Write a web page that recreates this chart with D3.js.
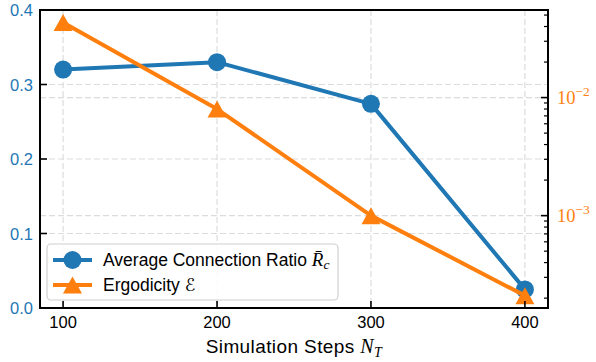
<!DOCTYPE html>
<html><head><meta charset="utf-8">
<script src="https://cdn.jsdelivr.net/npm/d3@7"></script>
<style>body{margin:0;background:#fff}svg{display:block}</style>
</head><body>
<svg id="c" width="596" height="362"></svg>
<script>
const steps = [100, 200, 300, 400];
const ratio = [0.320, 0.330, 0.274, 0.025];
const ergodicity = [0.0433, 0.0080, 0.00100, 0.00021];
const xTicks = [100, 200, 300, 400];
const leftTicks = [0.0, 0.1, 0.2, 0.3, 0.4];
const rightMajor = [1e-3, 1e-2];
const rightLabels = ["−3", "−2"];
const legendLabels = ["Average Connection Ratio ", "Ergodicity "];

const blue = "#1f77b4", orange = "#ff7f0e";
const sans = "'Liberation Sans', Arial, sans-serif";
const serif = "'Liberation Serif', 'DejaVu Serif', serif";
const L = 40, R = 548, T = 10, B = 308;
const svg = d3.select("#c");
const x = d3.scaleLinear().domain([85, 415]).range([L, R]);
const y = d3.scaleLinear().domain([0, 0.4]).range([B, T]);
const y2 = d3.scaleLog().domain([1.65e-4, 0.0552]).range([B, T]);

// grid
const grid = svg.append("g").attr("stroke", "#dcdcdc").attr("stroke-width", 1.2).attr("stroke-dasharray", "6,3");
grid.selectAll(".gx").data(xTicks).join("line").attr("x1", d => x(d)).attr("x2", d => x(d)).attr("y1", T).attr("y2", B);
grid.selectAll(".gy").data(leftTicks.slice(1, -1)).join("line").attr("x1", L).attr("x2", R).attr("y1", d => y(d)).attr("y2", d => y(d));
grid.selectAll(".gy2").data(rightMajor).join("line").attr("x1", L).attr("x2", R).attr("y1", d => y2(d)).attr("y2", d => y2(d));

// series 1
const line1 = d3.line().x((d, i) => x(steps[i])).y(d => y(d));
svg.append("path").datum(ratio).attr("d", line1).attr("fill", "none").attr("stroke", blue).attr("stroke-width", 4).attr("stroke-linejoin", "round");
svg.selectAll(".c1").data(ratio).join("circle").attr("cx", (d, i) => x(steps[i])).attr("cy", d => y(d)).attr("r", 9).attr("fill", blue);

// series 2
const line2 = d3.line().x((d, i) => x(steps[i])).y(d => y2(d));
svg.append("path").datum(ergodicity).attr("d", line2).attr("fill", "none").attr("stroke", orange).attr("stroke-width", 4).attr("stroke-linejoin", "round");
const tri = (cx, cy) => `M${cx},${cy - 8.5}L${cx + 9.5},${cy + 8.5}L${cx - 9.5},${cy + 8.5}Z`;
svg.selectAll(".t2").data(ergodicity).join("path").attr("d", (d, i) => tri(x(steps[i]), y2(d))).attr("fill", orange);

// frame
svg.append("rect").attr("x", L).attr("y", T).attr("width", R - L).attr("height", B - T).attr("fill", "none").attr("stroke", "#000").attr("stroke-width", 2);

// ticks
const tk = svg.append("g").attr("stroke", "#000").attr("stroke-width", 1.6);
tk.selectAll(".tx").data(xTicks).join("line").attr("x1", d => x(d)).attr("x2", d => x(d)).attr("y1", B).attr("y2", B - 7);
tk.selectAll(".ty").data(leftTicks).join("line").attr("x1", L).attr("x2", L + 7).attr("y1", d => y(d)).attr("y2", d => y(d));
const minors = y2.ticks().filter(d => rightMajor.indexOf(d) < 0 && d >= y2.domain()[0] && d <= y2.domain()[1]);
tk.selectAll(".tm").data(minors).join("line").attr("x1", R).attr("x2", R - 4).attr("y1", d => y2(d)).attr("y2", d => y2(d)).attr("stroke-width", 1.2);
tk.selectAll(".tM").data(rightMajor).join("line").attr("x1", R).attr("x2", R - 7).attr("y1", d => y2(d)).attr("y2", d => y2(d));

// tick labels
svg.selectAll(".lx").data(xTicks).join("text").attr("x", d => x(d)).attr("y", 328).attr("text-anchor", "middle")
  .attr("font-family", sans).attr("font-size", 16.5).attr("fill", "#000").text(d => d);
svg.selectAll(".ly").data(leftTicks).join("text").attr("x", 33).attr("y", d => y(d) + 6).attr("text-anchor", "end")
  .attr("font-family", sans).attr("font-size", 16.5).attr("fill", blue).text(d => d3.format(".1f")(d));
const rl = svg.selectAll(".ry").data(rightMajor).join("text").attr("x", 557).attr("y", d => y2(d) + 6.5)
  .attr("font-family", serif).attr("font-size", 18.5).attr("fill", orange);
rl.append("tspan").text("10");
rl.append("tspan").attr("dy", -8.5).attr("font-size", 13.5).text((d, i) => rightLabels[i]);

// axis label
const xl = svg.append("text").attr("x", 294).attr("y", 353).attr("text-anchor", "middle").attr("font-family", sans).attr("font-size", 19).attr("letter-spacing", 0.4).attr("fill", "#000");
xl.append("tspan").text("Simulation Steps ");
xl.append("tspan").attr("font-family", serif).attr("font-style", "italic").attr("font-size", 20).text("N");
xl.append("tspan").attr("font-family", serif).attr("font-style", "italic").attr("font-size", 14).attr("dy", 4).text("T");

// legend
const lg = svg.append("g");
lg.append("rect").attr("x", 47).attr("y", 244).attr("width", 291).attr("height", 56).attr("rx", 4)
  .attr("fill", "#fff").attr("fill-opacity", 0.85).attr("stroke", "#cfcfcf").attr("stroke-width", 1.2);
const rows = [260, 285];
lg.append("line").attr("x1", 53).attr("x2", 92).attr("y1", rows[0]).attr("y2", rows[0]).attr("stroke", blue).attr("stroke-width", 4);
lg.append("circle").attr("cx", 72.5).attr("cy", rows[0]).attr("r", 9).attr("fill", blue);
lg.append("line").attr("x1", 53).attr("x2", 92).attr("y1", rows[1]).attr("y2", rows[1]).attr("stroke", orange).attr("stroke-width", 4);
lg.append("path").attr("d", tri(72.5, rows[1])).attr("fill", orange);
const t1 = lg.append("text").attr("x", 103).attr("y", rows[0] + 6).attr("font-family", sans).attr("font-size", 17.5).attr("fill", "#000");
t1.append("tspan").text(legendLabels[0]);
t1.append("tspan").attr("font-family", serif).attr("font-style", "italic").attr("font-size", 19).text("R\u0304");
t1.append("tspan").attr("font-family", serif).attr("font-style", "italic").attr("font-size", 13.5).attr("dy", 3).text("c");
const t2 = lg.append("text").attr("x", 103).attr("y", rows[1] + 6).attr("font-family", sans).attr("font-size", 17.5).attr("fill", "#000");
t2.append("tspan").text(legendLabels[1]);
t2.append("tspan").attr("font-family", "'DejaVu Sans', serif").attr("font-size", 17.5).text("\u2130");
</script>
</body></html>
